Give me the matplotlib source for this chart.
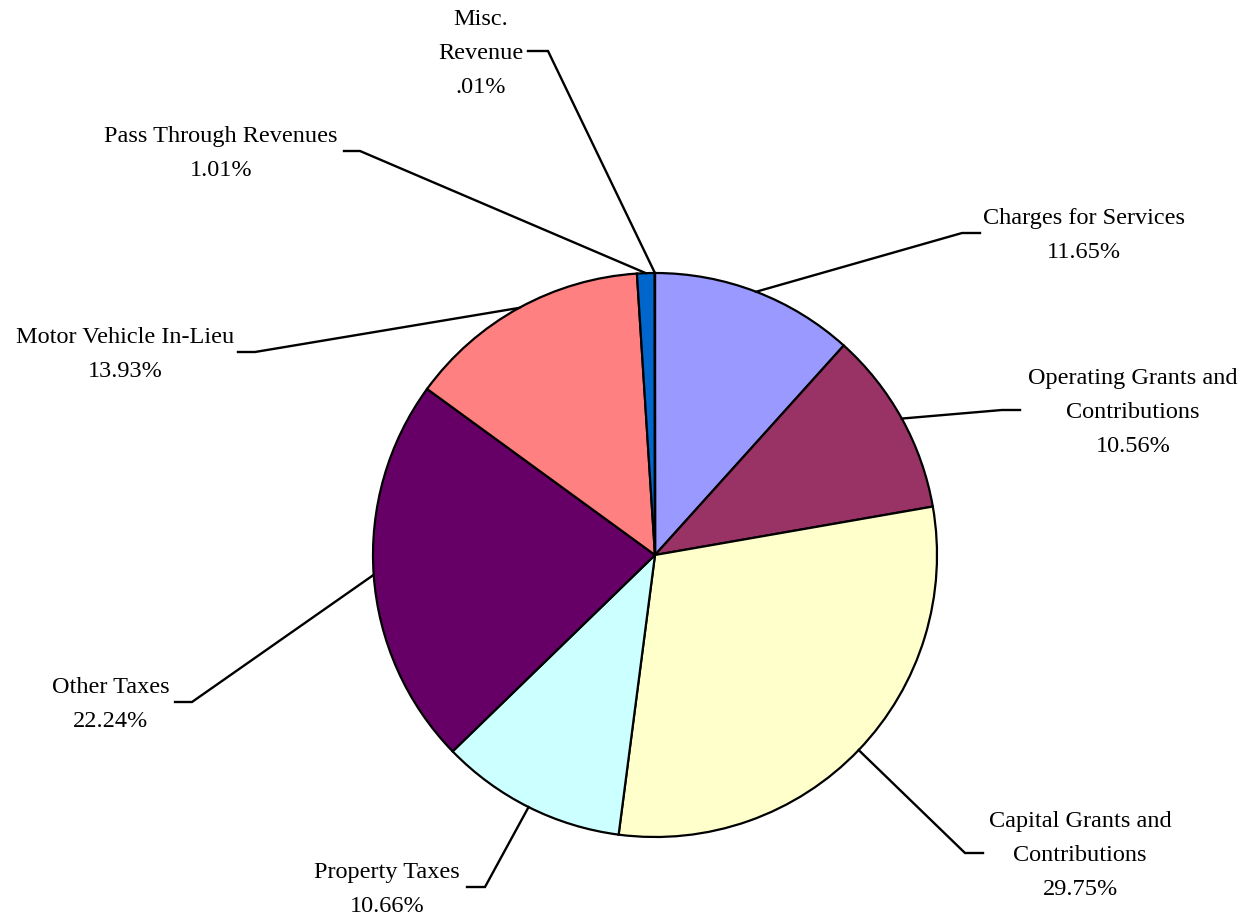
import matplotlib
matplotlib.use("Agg")
import matplotlib.pyplot as plt
import numpy as np

# revenue shares, clockwise from the top
categories = ["Charges for Services", "Operating Grants and\nContributions",
              "Capital Grants and\nContributions", "Property Taxes", "Other Taxes",
              "Motor Vehicle In-Lieu", "Pass Through Revenues", "Misc.\nRevenue"]
shares = [11.65, 10.56, 29.75, 10.66, 22.24, 13.93, 1.01, 0.01]
pct_labels = ["11.65%", "10.56%", "29.75%", "10.66%", "22.24%", "13.93%", "1.01%", ".01%"]
colors = ["#9999FF", "#993366", "#FFFFCC", "#CCFFFF", "#660066", "#FF8080", "#0066CC", "#CCCCFF"]

W, H = 1257, 917
CX, CY, R = 655, H - 555, 282

# label block centre (x, y from top), elbow x, tail x
label_pos = [
    (1084, 233, 962, 980),
    (1133, 410, 1002, 1020),
    (1080, 853, 965, 983),
    (387, 887, 485, 467),
    (111, 702, 192, 175),
    (125, 352, 255, 238),
    (221, 151, 360, 344),
    (481, 51, 548, 528),
]

fig = plt.figure(figsize=(W / 100, H / 100), dpi=100)
ax = fig.add_axes([0, 0, 1, 1])

wedges, _ = ax.pie(shares, colors=colors, startangle=90, counterclock=False,
                   center=(CX, CY), radius=R,
                   wedgeprops=dict(edgecolor="black", linewidth=1.6))
ax.set_xlim(0, W)
ax.set_ylim(0, H)
ax.set_aspect("equal")
ax.axis("off")

for w, name, pct, (tx, ty, ex, tail) in zip(wedges, categories, pct_labels, label_pos):
    mid = np.deg2rad((w.theta1 + w.theta2) / 2)
    px, py = CX + R * np.cos(mid), CY + R * np.sin(mid)
    ly = H - ty
    ax.plot([px, ex, tail], [py, ly, ly], color="black", lw=1.7,
            solid_joinstyle="miter", zorder=3)
    # text sits a touch lower than the leader tail
    ax.text(tx, ly - 2.5, name + "\n" + pct, ha="center", va="center",
            fontsize=17.5, family="Liberation Serif", linespacing=1.82)

fig.savefig("out.png", dpi=100)
